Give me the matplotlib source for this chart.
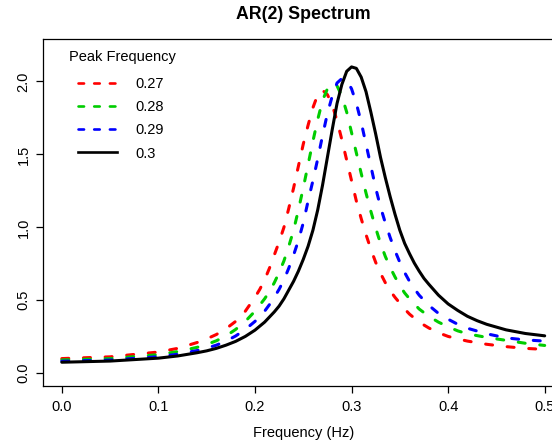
import numpy as np
import matplotlib
matplotlib.use("Agg")
import matplotlib.pyplot as plt

# valeurs (frequence, densite spectrale)
f_027 = [0.00, 0.05, 0.10, 0.12, 0.14, 0.15, 0.16, 0.17, 0.18, 0.19, 0.20, 0.205, 0.21,
         0.215, 0.22, 0.225, 0.23, 0.235, 0.24, 0.245, 0.25, 0.255, 0.26, 0.265, 0.27,
         0.275, 0.28, 0.285, 0.29, 0.295, 0.30, 0.305, 0.31, 0.315, 0.32, 0.325, 0.33,
         0.335, 0.34, 0.345, 0.35, 0.355, 0.36, 0.37, 0.38, 0.39, 0.40, 0.41, 0.42,
         0.44, 0.46, 0.48, 0.50]
s_027 = [0.100, 0.112, 0.145, 0.17, 0.21, 0.235, 0.265, 0.305, 0.355, 0.425, 0.52, 0.575, 0.64,
         0.72, 0.81, 0.90, 1.00, 1.13, 1.27, 1.42, 1.57, 1.70, 1.82, 1.91, 1.94,
         1.91, 1.84, 1.73, 1.60, 1.46, 1.32, 1.18, 1.06, 0.95, 0.85, 0.76, 0.685,
         0.62, 0.565, 0.52, 0.48, 0.44, 0.405, 0.35, 0.31, 0.277, 0.252, 0.235, 0.22,
         0.198, 0.182, 0.170, 0.163]

f_028 = [0.00, 0.05, 0.10, 0.12, 0.14, 0.15, 0.16, 0.17, 0.18, 0.19, 0.20, 0.21, 0.215,
         0.22, 0.225, 0.23, 0.235, 0.24, 0.245, 0.25, 0.255, 0.26, 0.265, 0.27, 0.275,
         0.28, 0.285, 0.29, 0.295, 0.30, 0.305, 0.31, 0.315, 0.32, 0.325, 0.33, 0.335,
         0.34, 0.345, 0.35, 0.355, 0.36, 0.37, 0.38, 0.39, 0.40, 0.41, 0.42, 0.44,
         0.46, 0.48, 0.50]
s_028 = [0.091, 0.100, 0.127, 0.148, 0.177, 0.197, 0.222, 0.255, 0.30, 0.355, 0.425, 0.51, 0.56,
         0.62, 0.69, 0.77, 0.87, 0.98, 1.12, 1.27, 1.43, 1.59, 1.74, 1.87, 1.95,
         1.99, 1.97, 1.90, 1.79, 1.65, 1.51, 1.37, 1.235, 1.11, 0.995, 0.89, 0.80,
         0.725, 0.66, 0.60, 0.55, 0.51, 0.44, 0.39, 0.35, 0.318, 0.29, 0.27, 0.245,
         0.225, 0.205, 0.19]

f_029 = [0.00, 0.05, 0.10, 0.12, 0.14, 0.15, 0.16, 0.17, 0.18, 0.19, 0.20, 0.21, 0.215,
         0.22, 0.225, 0.23, 0.235, 0.24, 0.245, 0.25, 0.255, 0.26, 0.265, 0.27, 0.275,
         0.28, 0.285, 0.29, 0.295, 0.30, 0.305, 0.31, 0.315, 0.32, 0.325, 0.33, 0.335,
         0.34, 0.345, 0.35, 0.355, 0.36, 0.365, 0.37, 0.38, 0.39, 0.40, 0.41, 0.42,
         0.44, 0.46, 0.48, 0.50]
s_029 = [0.082, 0.090, 0.113, 0.13, 0.155, 0.172, 0.192, 0.22, 0.255, 0.30, 0.355, 0.425, 0.47,
         0.52, 0.575, 0.64, 0.72, 0.81, 0.91, 1.03, 1.18, 1.32, 1.47, 1.63, 1.78,
         1.90, 1.99, 2.02, 2.01, 1.95, 1.85, 1.72, 1.57, 1.42, 1.27, 1.14, 1.03,
         0.93, 0.84, 0.76, 0.69, 0.63, 0.58, 0.535, 0.465, 0.41, 0.37, 0.335, 0.308,
         0.27, 0.242, 0.228, 0.22]

f_030 = [0.00, 0.05, 0.10, 0.12, 0.14, 0.15, 0.16, 0.17, 0.18, 0.19, 0.20, 0.21, 0.22,
         0.225, 0.23, 0.235, 0.24, 0.245, 0.25, 0.255, 0.26, 0.265, 0.27, 0.275, 0.28,
         0.285, 0.29, 0.295, 0.30, 0.305, 0.31, 0.315, 0.32, 0.325, 0.33, 0.335, 0.34,
         0.345, 0.35, 0.355, 0.36, 0.365, 0.37, 0.375, 0.38, 0.39, 0.40, 0.41, 0.42,
         0.43, 0.44, 0.46, 0.48, 0.50]
s_030 = [0.075, 0.083, 0.103, 0.118, 0.140, 0.153, 0.170, 0.192, 0.218, 0.252, 0.295, 0.35, 0.42,
         0.46, 0.51, 0.57, 0.63, 0.70, 0.78, 0.87, 0.98, 1.12, 1.29, 1.48, 1.67,
         1.85, 1.98, 2.07, 2.10, 2.09, 2.03, 1.93, 1.79, 1.64, 1.48, 1.34, 1.21,
         1.09, 0.98, 0.89, 0.82, 0.755, 0.70, 0.65, 0.61, 0.535, 0.475, 0.43, 0.39,
         0.36, 0.335, 0.297, 0.272, 0.256]

labels = ["0.27", "0.28", "0.29", "0.3"]
colors = ["#FF0000", "#00CD00", "#0000FF", "#000000"]

plt.rcParams['font.family'] = ['Liberation Sans', 'DejaVu Sans']
plt.rcParams['lines.scale_dashes'] = False

fig = plt.figure(figsize=(5.52, 4.44), dpi=100)
ax = fig.add_axes([42.5 / 552, 58 / 444, (564 - 42.5) / 552, (386 - 39.5) / 444])

series = [(f_027, s_027), (f_028, s_028), (f_029, s_029), (f_030, s_030)]
for (f, s), c, lab in zip(series, colors, labels):
    if lab == "0.3":
        ax.plot(f, s, color=c, lw=2.2, solid_capstyle='round', solid_joinstyle='round')
    else:
        ax.plot(f, s, color=c, lw=2.2, dashes=(5.0, 10.6), dash_capstyle='round',
                dash_joinstyle='round')

ax.set_xlim(-0.02, 0.52)
ax.set_ylim(-0.088, 2.288)
ax.set_xticks([0.0, 0.1, 0.2, 0.3, 0.4, 0.5])
ax.set_xticklabels(["0.0", "0.1", "0.2", "0.3", "0.4", "0.5"])
ax.set_yticks([0.0, 0.5, 1.0, 1.5, 2.0])
ax.set_yticklabels(["0.0", "0.5", "1.0", "1.5", "2.0"], rotation=90, va='center')
ax.tick_params(direction='out', length=5, width=0.9, labelsize=10.5)
ax.tick_params(axis='x', pad=5)
ax.tick_params(axis='y', pad=3.5)
for sp in ax.spines.values():
    sp.set_linewidth(0.9)

ax.set_xlabel("Frequency (Hz)", fontsize=10.5, labelpad=9)
ax.set_title("AR(2) Spectrum", fontsize=12.8, fontweight='bold', pad=14.5)

# legende sans cadre, titre a part
handles = []
for c, lab in zip(colors, labels):
    if lab == "0.3":
        h, = ax.plot([], [], color=c, lw=1.9)
    else:
        h, = ax.plot([], [], color=c, lw=1.9, dashes=(4.0, 7.3), dash_capstyle='round')
    handles.append(h)
ax.legend(handles, labels, loc='upper left', frameon=False, fontsize=10.5,
          bbox_to_anchor=(78 / 552, 1 - 77 / 444), bbox_transform=fig.transFigure,
          borderpad=0, borderaxespad=0, handlelength=2.7, handletextpad=1.2,
          labelspacing=0.63)
fig.text(122.5 / 552, 1 - 57.5 / 444, "Peak Frequency", fontsize=10.5, ha='center', va='center')

fig.savefig("out.png", dpi=100)
